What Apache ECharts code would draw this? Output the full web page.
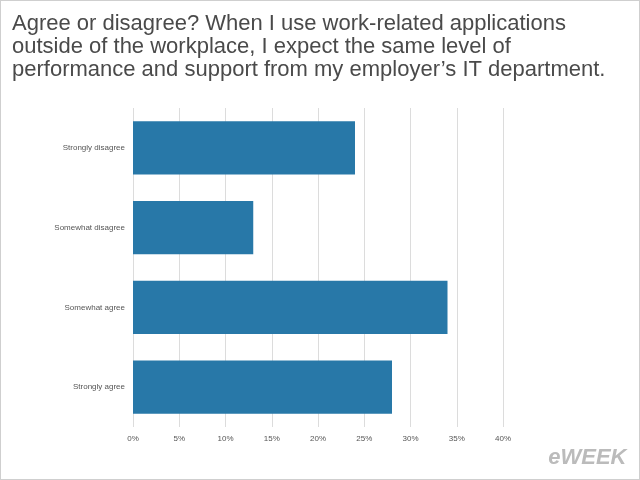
<!DOCTYPE html>
<html>
<head>
<meta charset="utf-8">
<script src="https://cdn.jsdelivr.net/npm/echarts@6/dist/echarts.min.js"></script>
<style>
  html, body { margin: 0; padding: 0; background: #fff; }
  #chart { width: 638px; height: 478px; border: 1px solid #cfcfcf; }
</style>
</head>
<body>
<div id="chart"></div>
<script>
// data
var categories = ['Strongly disagree', 'Somewhat disagree', 'Somewhat agree', 'Strongly agree'];
var values = [24, 13, 34, 28];
var titleText = 'Agree or disagree? When I use work-related applications\noutside of the workplace, I expect the same level of\nperformance and support from my employer\u2019s IT department.';

var myChart = echarts.init(document.getElementById('chart'));
var option = {
    animation: false,
    title: {
        text: titleText,
        left: 6,
        top: 6,
        textStyle: {
            fontFamily: 'Liberation Sans',
            fontWeight: 'normal',
            fontSize: 22,
            lineHeight: 23,
            color: '#4a4a4a'
        }
    },
    grid: { left: 132, right: 136, top: 107, bottom: 52 },
    xAxis: {
        type: 'value',
        min: 0,
        max: 40,
        interval: 5,
        axisLabel: {
            formatter: '{value}%',
            fontSize: 8,
            color: '#555',
            fontFamily: 'Liberation Sans',
            margin: 8
        },
        splitLine: { lineStyle: { color: '#dcdcdc' } },
        axisLine: { show: false },
        axisTick: { show: false }
    },
    yAxis: {
        type: 'category',
        data: categories,
        inverse: true,
        axisLabel: {
            fontSize: 8,
            color: '#555',
            fontFamily: 'Liberation Sans',
            margin: 8
        },
        axisLine: { show: false },
        axisTick: { show: false }
    },
    series: [
        {
            type: 'bar',
            data: values,
            barWidth: '67%',
            itemStyle: { color: '#2878a8' }
        }
    ],
    graphic: [
        {
            type: 'text',
            right: 12,
            bottom: 10,
            style: {
                text: 'eWEEK',
                fontSize: 22,
                fontStyle: 'italic',
                fontWeight: 'bold',
                fontFamily: 'Liberation Sans',
                fill: '#bbb',
                stroke: '#fff',
                lineWidth: 1
            }
        }
    ]
};
myChart.setOption(option);
</script>
</body>
</html>
